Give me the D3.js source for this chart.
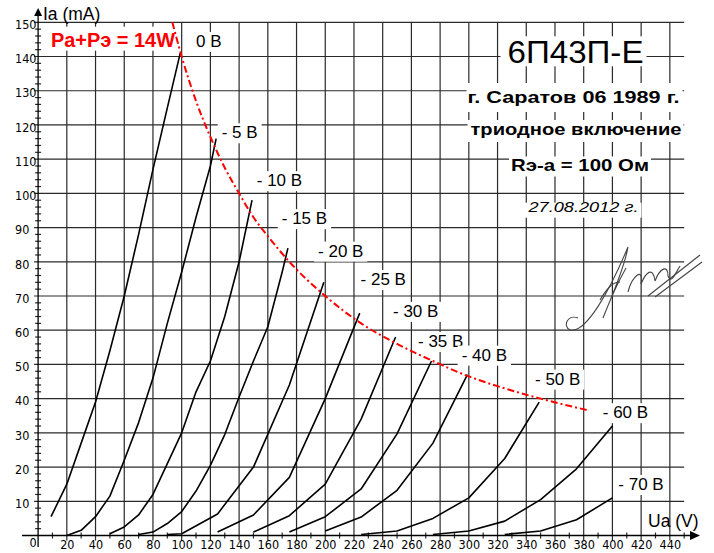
<!DOCTYPE html>
<html>
<head>
<meta charset="utf-8">
<script src="https://cdn.jsdelivr.net/npm/d3@7"></script>
<style>
  body { margin: 0; background: #fff; }
  svg { display: block; }
</style>
</head>
<body>
<div id="chart"></div>
<script>
const W = 714, H = 553;

// anode characteristics, triode connection: [Ua (V), Ia (mA)] per grid bias
const g0   = [[9, 5.5], [20, 15], [30, 27], [40, 39], [50, 54], [60, 70], [70, 88], [80, 107], [90, 125], [99, 141]];
const g5   = [[20, 0], [30, 1.5], [40, 5.5], [50, 11.5], [60, 22], [70, 33], [80, 46], [90, 62], [100, 77], [110, 93], [120, 108], [124, 116]];
const g10  = [[50, 0.5], [60, 2.5], [70, 6], [80, 12], [90, 21], [100, 30], [110, 42], [120, 51], [130, 64], [140, 80], [149, 98]];
const g15  = [[70, 0.3], [80, 1], [90, 3.5], [100, 7], [110, 13], [120, 20.5], [130, 29.5], [140, 40.5], [150, 51], [160, 61], [170, 77], [174, 84]];
const g20  = [[90, 0.3], [100, 0.5], [125, 6.3], [150, 20], [175, 44], [199, 74]];
const g25  = [[125, 1], [150, 6], [175, 17], [200, 40], [224, 65]];
const g30  = [[150, 1], [175, 5.8], [200, 15], [225, 34], [249, 58]];
const g35  = [[175, 1], [200, 5.5], [225, 13.6], [250, 29.7], [274, 51]];
const g40  = [[200, 1.3], [225, 5.4], [250, 13.2], [275, 27], [299, 47]];
const g50  = [[225, 0.3], [250, 1.3], [275, 5], [300, 11], [325, 22.5], [349, 39]];
const g60  = [[275, 0.3], [300, 1.3], [325, 4.2], [350, 10.5], [375, 19.5], [400, 32]];
const g70  = [[325, 0.3], [350, 1.3], [375, 4.6], [400, 11]];

const biasNames = ["0 В", "- 5 В", "- 10 В", "- 15 В", "- 20 В", "- 25 В", "- 30 В", "- 35 В", "- 40 В", "- 50 В", "- 60 В", "- 70 В"];

// Pa+Pэ = 14W limit
const powerLimit = [[93.5, 150], [100, 140], [110, 127], [120, 116.5], [130, 107.5], [140, 100], [150, 93], [160, 87.5],
                    [175, 80], [200, 70], [225, 62], [250, 56], [275, 51], [300, 46.5], [325, 43], [350, 40], [384, 36.5]];

const uaTicks = [20, 40, 60, 80, 100, 120, 140, 160, 180, 200, 220, 240, 260, 280, 300, 320, 340, 360, 380, 400, 420, 440];
const iaTicks = [10, 20, 30, 40, 50, 60, 70, 80, 90, 100, 110, 120, 130, 140, 150];

const curves = [g0, g5, g10, g15, g20, g25, g30, g35, g40, g50, g60, g70];

// where the bias labels sit (left end of baseline, in axis units)
const labelPos = [[110, 142.8], [127.9, 116.1], [152.3, 102.1], [169.7, 91], [195, 81.5], [224.6, 73.2],
                  [247.2, 63.9], [264.6, 55.1], [295, 51.1], [346.1, 44.1], [393.3, 34.3], [404.1, 13.3]];

const x = d3.scaleLinear().domain([0, 450]).range([38.1, 684.2]);
const y = d3.scaleLinear().domain([0, 150]).range([535.5, 22.3]);

const SANS = "'Liberation Sans', Arial, sans-serif";
const NARROW = "'Liberation Sans Narrow', 'DejaVu Sans Condensed', sans-serif";

const svg = d3.select("#chart").append("svg")
  .attr("width", W).attr("height", H);

// grid
const grid = svg.append("g").attr("stroke", "#2a2a2a").attr("stroke-width", 1.2);
grid.selectAll(".vg").data(uaTicks).enter().append("line")
  .attr("x1", d => x(d)).attr("x2", d => x(d))
  .attr("y1", y(150)).attr("y2", y(0) + 5);
grid.selectAll(".hg").data(iaTicks).enter().append("line")
  .attr("x1", x(0) - 4).attr("x2", x(450))
  .attr("y1", d => y(d)).attr("y2", d => y(d));

// minor ticks
const uaMinor = uaTicks.map(d => d - 10).concat([450]);
svg.append("g").attr("stroke", "#2a2a2a").attr("stroke-width", 1.2)
  .selectAll("line").data(uaMinor).enter().append("line")
  .attr("x1", d => x(d)).attr("x2", d => x(d))
  .attr("y1", y(0) - 3).attr("y2", y(0) + 3);
const iaMinor = d3.range(2, 150, 2).filter(d => d % 10 !== 0);
svg.append("g").attr("stroke", "#2a2a2a").attr("stroke-width", 1.2)
  .selectAll("line").data(iaMinor).enter().append("line")
  .attr("x1", x(0) - 3).attr("x2", x(0) + 3)
  .attr("y1", d => y(d)).attr("y2", d => y(d));

// axes lines + arrows
svg.append("line").attr("x1", 22).attr("x2", 692).attr("y1", y(0)).attr("y2", y(0))
  .attr("stroke", "#000").attr("stroke-width", 1.3);
svg.append("line").attr("x1", x(0)).attr("x2", x(0)).attr("y1", 547).attr("y2", 14)
  .attr("stroke", "#000").attr("stroke-width", 1.3);
svg.append("path").attr("d", `M${x(0)},8 L${x(0) - 4},16 L${x(0) + 4},16 Z`).attr("fill", "#000");
svg.append("path").attr("d", `M700,${y(0)} L690,${y(0) - 4.5} L690,${y(0) + 4.5} Z`).attr("fill", "#000");

// tick labels through d3 axes
const xAxis = svg.append("g").attr("transform", `translate(0,${y(0) + 2})`)
  .call(d3.axisBottom(x).tickValues(uaTicks).tickSize(0).tickPadding(3));
xAxis.select(".domain").remove();
xAxis.selectAll("text").attr("font-family", NARROW).attr("font-size", 12.5).attr("fill", "#000");

const yAxis = svg.append("g").attr("transform", "translate(15,0)")
  .call(d3.axisRight(y).tickValues(iaTicks).tickSize(0).tickPadding(0));
yAxis.select(".domain").remove();
yAxis.selectAll("text").attr("font-family", NARROW).attr("font-size", 12.5).attr("fill", "#000")
  .attr("dy", "0.5em");

svg.append("text").attr("x", 33).attr("y", 547).attr("text-anchor", "middle")
  .attr("font-family", NARROW).attr("font-size", 12.5).text("0");

// axis titles
svg.append("text").attr("x", 43).attr("y", 20).attr("font-family", SANS).attr("font-size", 17.5).text("Ia (mA)");
svg.append("text").attr("x", 648).attr("y", 527).attr("font-family", SANS).attr("font-size", 17.5).text("Ua (V)");

// text with white background box
function boxedText(parent, cfg) {
  const gg = parent.append("g");
  const rect = gg.append("rect").attr("fill", "#fff");
  const t = gg.append("text")
    .attr("x", cfg.x).attr("y", cfg.y)
    .attr("font-family", SANS)
    .attr("font-size", cfg.size)
    .attr("font-weight", cfg.weight || "normal")
    .attr("font-style", cfg.style || "normal")
    .attr("fill", cfg.color || "#000")
    .attr("text-anchor", cfg.anchor || "start")
    .text(cfg.text);
  if (cfg.len) t.attr("textLength", cfg.len).attr("lengthAdjust", "spacingAndGlyphs");
  const bb = t.node().getBBox();
  const p = cfg.pad || [3, 3, 3, 3]; // left, top, right, bottom
  rect.attr("x", bb.x - p[0]).attr("y", cfg.y - cfg.top)
    .attr("width", bb.width + p[0] + p[2]).attr("height", cfg.top + cfg.bottom);
  return gg;
}

const labels = svg.append("g");

// bias labels
biasNames.forEach((name, i) => {
  const pos = labelPos[i];
  boxedText(labels, {
    x: x(pos[0]), y: y(pos[1]), size: 17, text: name,
    top: 15, bottom: 5, pad: [4, 0, 4, 0]
  });
});

// header
boxedText(labels, { x: 575.5, y: 63.3, size: 31, text: "6П43П-Е", anchor: "middle", len: 136, top: 27, bottom: 3, pad: [7, 0, 3, 0] });
boxedText(labels, { x: 573.5, y: 103, size: 16.5, weight: "bold", text: "г. Саратов 06 1989 г.", anchor: "middle", len: 212, top: 20, bottom: 9, pad: [1, 0, 3, 0] });
boxedText(labels, { x: 576, y: 135, size: 16.5, weight: "bold", text: "триодное включение", anchor: "middle", len: 211, top: 15, bottom: 7, pad: [3, 0, 2, 0] });
boxedText(labels, { x: 580, y: 170.5, size: 16.5, weight: "bold", text: "Rэ-а = 100 Ом", anchor: "middle", len: 138, top: 14, bottom: 6, pad: [2, 0, 2, 0] });
boxedText(labels, { x: 583.5, y: 211.7, size: 14, style: "italic", text: "27.08.2012 г.", anchor: "middle", len: 110, top: 9, bottom: 6, pad: [3, 0, 3, 0] });
boxedText(labels, { x: 51, y: 46.7, size: 19.5, weight: "bold", color: "#ff0000", text: "Pa+Pэ = 14W", len: 124, top: 20, bottom: 4, pad: [6, 0, 4, 0] });

// characteristic curves
const line = d3.line().x(d => x(d[0])).y(d => y(d[1]));
svg.append("g").selectAll("path").data(curves).enter().append("path")
  .attr("d", line)
  .attr("fill", "none")
  .attr("stroke", "#000")
  .attr("stroke-width", 1.6)
  .attr("stroke-linejoin", "round");

// 14W power limit
svg.append("path")
  .attr("d", d3.line().curve(d3.curveMonotoneX).x(d => x(d[0])).y(d => y(d[1]))(powerLimit))
  .attr("fill", "none")
  .attr("stroke", "#ff0000")
  .attr("stroke-width", 2)
  .attr("stroke-dasharray", "7,3,2,3");

// signature
const sig = svg.append("g").attr("fill", "none").attr("stroke", "#444").attr("stroke-width", 1.1);
sig.append("path").attr("d", "M578,318 C568,314 562,326 570,330 C586,334 610,290 628,247 C624,270 610,300 603,318 C610,300 618,282 626,268");
sig.append("path").attr("d", "M600,300 C606,290 612,282 620,282");
sig.append("path").attr("d", "M628,292 C632,276 644,266 641,284 C646,272 653,266 655,281 C660,268 668,264 668,276 C671,284 674,276 680,266");
sig.append("path").attr("d", "M648,296 L700,255 M655,297 L702,262");
</script>
</body>
</html>
